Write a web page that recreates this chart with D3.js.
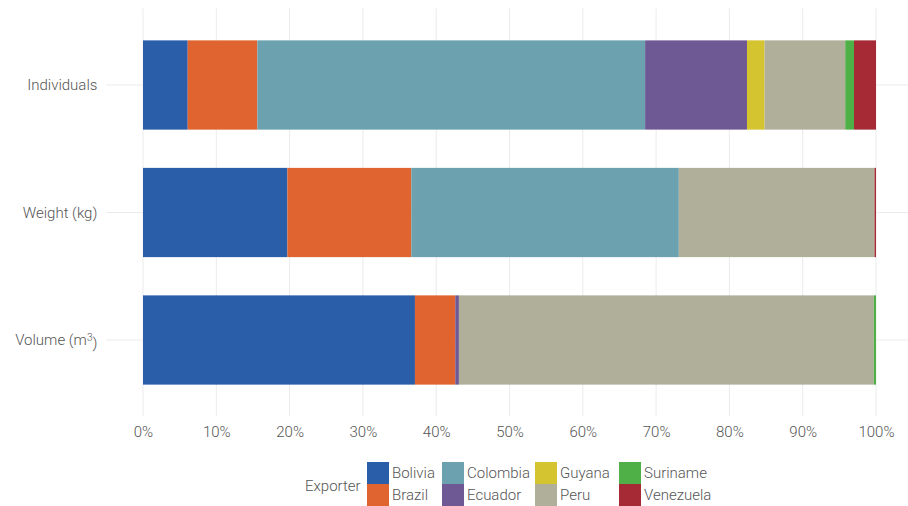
<!DOCTYPE html>
<html>
<head>
<meta charset="utf-8">
<script src="https://cdn.jsdelivr.net/npm/d3@7"></script>
<style>
  html, body { margin: 0; padding: 0; background: #fff; }
  svg text { font-family: Roboto, "Liberation Sans", sans-serif; font-weight: 300; fill: #555; }
</style>
</head>
<body>
<svg id="chart" width="908" height="506"></svg>
<script>
// ---- data ----
const categories = ["Individuals", "Weight (kg)", "Volume (m3)"];
const exporters = ["Bolivia", "Brazil", "Colombia", "Ecuador", "Guyana", "Peru", "Suriname", "Venezuela"];
const colors = ["#2a5ea8", "#e0642f", "#6ca1b0", "#6e5994", "#d4c42f", "#b0b09a", "#4fb048", "#a52a35"];
// shares (%) per exporter for each measure, in order of categories
const bolivia   = [6.1, 19.7, 37.1];
const brazil    = [9.5, 16.9, 5.5];
const colombia  = [52.9, 36.5, 0.0];
const ecuador   = [13.9, 0.0, 0.5];
const guyana    = [2.4, 0.0, 0.0];
const peru      = [11.0, 26.7, 56.6];
const suriname  = [1.2, 0.0, 0.3];
const venezuela = [3.0, 0.2, 0.0];
const xTicks = [0, 0.1, 0.2, 0.3, 0.4, 0.5, 0.6, 0.7, 0.8, 0.9, 1.0];

const seriesValues = [bolivia, brazil, colombia, ecuador, guyana, peru, suriname, venezuela];
const rows = categories.map((c, i) => {
  const r = { category: c };
  exporters.forEach((e, j) => { r[e] = seriesValues[j][i] / 100; });
  return r;
});

const svg = d3.select("#chart");

const x = d3.scaleLinear().domain([0, 1]).range([143, 876]);
const xExp = 0.05 * (x.range()[1] - x.range()[0]);
const panelLeft = x.range()[0] - xExp, panelRight = x.range()[1] + xExp;

const yc = d3.scalePoint().domain(categories).range([85, 340]);
const step = yc.step();
const panelTop = yc(categories[0]) - 0.6 * step, panelBottom = yc(categories[2]) + 0.6 * step;
const barH = step * 0.7;

const color = d3.scaleOrdinal().domain(exporters).range(colors);

// grid
const grid = svg.append("g");
grid.selectAll("line.v").data(xTicks).join("line")
  .attr("x1", d => x(d)).attr("x2", d => x(d))
  .attr("y1", panelTop).attr("y2", panelBottom)
  .attr("stroke", "#ebebeb").attr("stroke-width", 1);
grid.selectAll("line.h").data(categories).join("line")
  .attr("x1", panelLeft).attr("x2", panelRight)
  .attr("y1", d => yc(d)).attr("y2", d => yc(d))
  .attr("stroke", "#ebebeb").attr("stroke-width", 1);

// stacked bars
const stack = d3.stack().keys(exporters);
const stacked = stack(rows);
svg.append("g").selectAll("g").data(stacked).join("g")
  .attr("fill", d => color(d.key))
  .selectAll("rect").data(d => d).join("rect")
  .attr("x", d => x(d[0]))
  .attr("width", d => Math.max(0, x(d[1]) - x(d[0])))
  .attr("y", d => yc(d.data.category) - barH / 2)
  .attr("height", barH);

// x axis labels
const xAxis = d3.axisBottom(x).tickValues(xTicks).tickFormat(d3.format(".0%")).tickSize(0).tickPadding(0);
const gx = svg.append("g").attr("transform", `translate(0, ${panelBottom})`).call(xAxis);
gx.select(".domain").remove();
gx.selectAll("text").attr("dy", null).attr("y", 20).style("font-size", "15px")
  .style("font-family", "Roboto, sans-serif").attr("fill", "#555");

// y axis labels
const gy = svg.append("g").attr("transform", `translate(${panelLeft}, 0)`)
  .call(d3.axisLeft(yc).tickSize(0).tickPadding(9));
gy.select(".domain").remove();
gy.selectAll("text").style("font-size", "15px").style("font-family", "Roboto, sans-serif")
  .attr("fill", "#555")
  .each(function(d) {
    const t = d3.select(this);
    const m = d.match(/^(.*\(m)(\d)(\))$/);
    if (m) {
      t.text(null);
      t.append("tspan").text(m[1]);
      t.append("tspan").text(m[2]).attr("dy", "-0.45em").style("font-size", "10px");
      t.append("tspan").text(m[3]).attr("dy", "0.45em");
    }
  });

// legend
const legend = svg.append("g");
legend.append("text").attr("x", 305).attr("y", 486).attr("dy", "0.35em")
  .style("font-size", "15px").text("Exporter");
const colX = [367, 442, 535, 619];
const rowY = [462, 484];
const keyS = 22;
exporters.forEach((e, i) => {
  const cx = colX[Math.floor(i / 2)], cy = rowY[i % 2];
  legend.append("rect").attr("x", cx).attr("y", cy).attr("width", keyS).attr("height", keyS)
    .attr("fill", color(e));
  legend.append("text").attr("x", cx + keyS + 3).attr("y", cy + keyS / 2).attr("dy", "0.35em")
    .style("font-size", "15px").text(e);
});
</script>
</body>
</html>
